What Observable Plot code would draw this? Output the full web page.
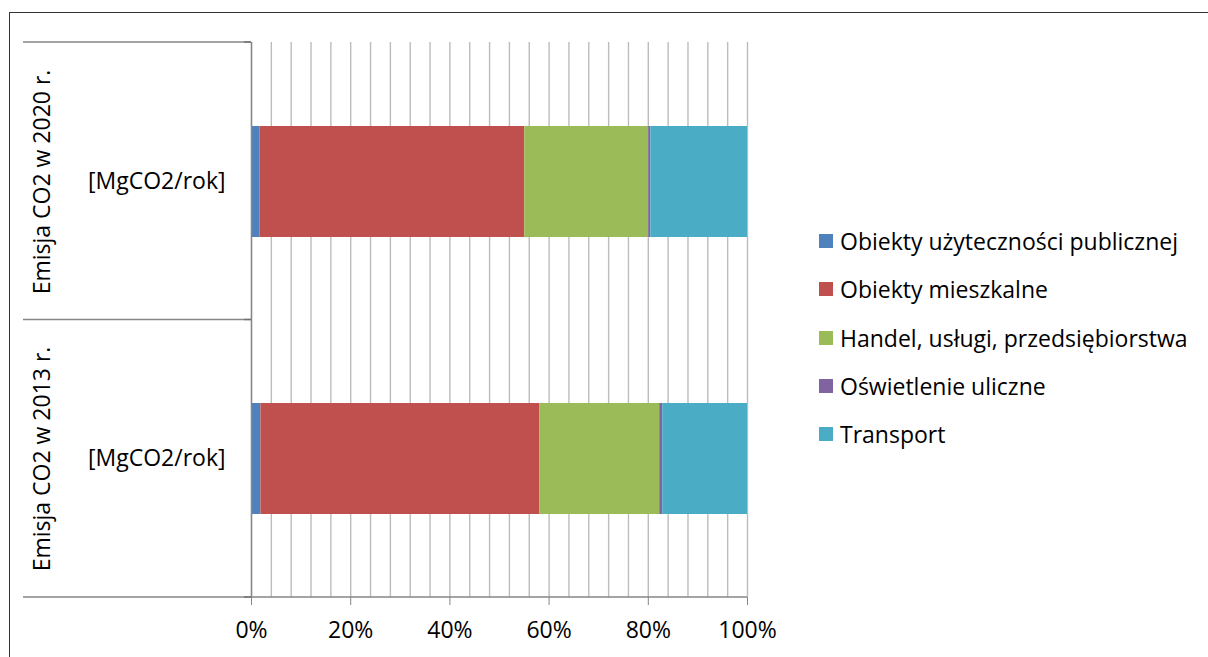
<!DOCTYPE html>
<html><head><meta charset="utf-8">
<script src="https://cdn.jsdelivr.net/npm/d3@7"></script>
<script src="https://cdn.jsdelivr.net/npm/@observablehq/plot@0.6"></script>
<style>
body{margin:0;background:#fff;}
#wrap{position:relative;width:1208px;height:657px;overflow:hidden;font-family:"Open Sans",sans-serif;background:#fff;}
#wrap svg{position:absolute;left:0;top:0;}
#frame{position:absolute;left:9px;top:12px;right:-10px;bottom:-10px;border-left:1.5px solid #333;border-top:1.5px solid #333;}
#legend{position:absolute;left:819px;top:217px;}
.row{display:flex;align-items:center;height:48.3px;font-size:23px;color:#000;white-space:nowrap;}
.sw{width:14px;height:14px;margin-right:7px;flex:none;}
</style></head><body><div id="wrap"><div id="frame"></div></div>
<script>
const years = ["2020", "2013"];
const outerLabels = ["Emisja CO2 w 2020 r.", "Emisja CO2 w 2013 r."];
const innerLabel = "[MgCO2/rok]";
const sectors = ["Obiekty użyteczności publicznej", "Obiekty mieszkalne", "Handel, usługi, przedsiębiorstwa", "Oświetlenie uliczne", "Transport"];
const colors = ["#4f81bd", "#c0504d", "#9bbb59", "#8064a2", "#4bacc6"];
const share2020 = [1.7, 53.4, 25.0, 0.4, 19.5];
const share2013 = [1.9, 56.2, 24.2, 0.6, 17.1];
const xTicks = [0, 20, 40, 60, 80, 100];
const gridLines = [0, 4, 8, 12, 16, 20, 24, 28, 32, 36, 40, 44, 48, 52, 56, 60, 64, 68, 72, 76, 80, 84, 88, 92, 96, 100];

const shares = [share2020, share2013];
const data = [];
years.forEach((y, i) => sectors.forEach((s, j) => data.push({year: y, sector: s, value: shares[i][j]})));

const plot = Plot.plot({
  width: 1208, height: 657,
  marginLeft: 251, marginRight: 461, marginTop: 42, marginBottom: 60,
  style: {fontFamily: "'Open Sans', sans-serif", fontSize: "23px", color: "#000", background: "transparent", overflow: "visible"},
  x: {domain: [0, 100], label: null},
  y: {domain: years, paddingInner: 0.6, paddingOuter: 0.3, axis: null, label: null},
  color: {domain: sectors, range: colors},
  marks: [
    Plot.ruleX(gridLines, {stroke: "#bcbcbc", strokeWidth: 1.4}),
    Plot.barX(data, Plot.stackX({x: "value", y: "year", fill: "sector"})),
    Plot.ruleX([0], {stroke: "#868686", strokeWidth: 1.4}),
    Plot.axisX({ticks: xTicks, tickFormat: d => d + "%", tickSize: 8, tickPadding: 16, stroke: "#868686", fill: "#000", label: null}),
    Plot.text(years, {y: d => d, text: () => innerLabel, frameAnchor: "left", dx: -26, textAnchor: "end", fill: "#000"}),
    Plot.text(years, {y: d => d, text: (d, i) => outerLabels[i], frameAnchor: "left", dx: -209, rotate: -90, textAnchor: "middle", fill: "#000"})
  ]
});

// category separators and bottom axis line
const ys = plot.scale("y");
const xs = plot.scale("x");
const [r0, r1] = ys.range;
const n = years.length;
const svg = d3.select(plot);
const g = svg.append("g").attr("stroke", "#868686").attr("stroke-width", 1.4);
for (let i = 0; i <= n; i++) {
  const yy = r0 + (r1 - r0) * i / n;
  g.append("line").attr("x1", 23).attr("x2", i === n ? xs.apply(100) : xs.apply(0)).attr("y1", yy).attr("y2", yy);
  g.append("line").attr("x1", xs.apply(0) - 7).attr("x2", xs.apply(0)).attr("y1", yy).attr("y2", yy).attr("stroke", "#707070");
}

document.getElementById("wrap").appendChild(plot);

const legend = document.createElement("div");
legend.id = "legend";
sectors.forEach((s, i) => {
  const row = document.createElement("div");
  row.className = "row";
  const sw = document.createElement("span");
  sw.className = "sw";
  sw.style.background = colors[i];
  row.appendChild(sw);
  row.appendChild(document.createTextNode(s));
  legend.appendChild(row);
});
document.getElementById("wrap").appendChild(legend);
</script>
</body></html>
